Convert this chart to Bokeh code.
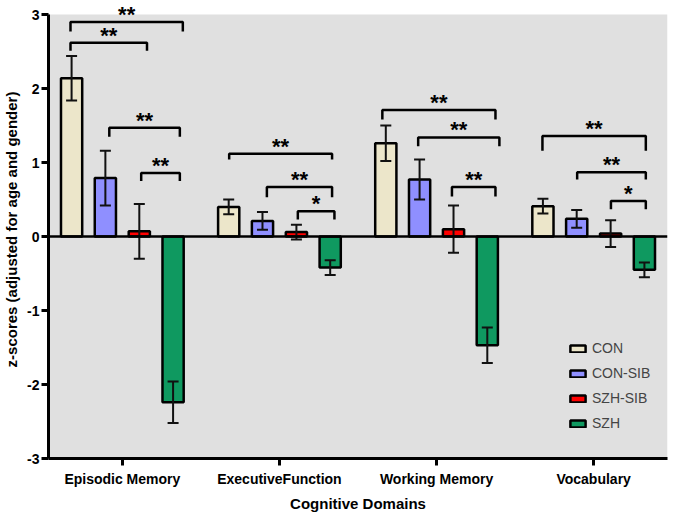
from bokeh.plotting import figure
from bokeh.models import (ColumnDataSource, Whisker, TeeHead, Span, FixedTicker, Range1d,
                          LabelSet, BoxAnnotation)
from bokeh.embed import file_html
from bokeh.resources import INLINE
from bokeh.core.properties import value

# ---------------- data ----------------
domains = ["Episodic Memory", "ExecutiveFunction", "Working Memory", "Vocabulary"]
groups = ["CON", "CON-SIB", "SZH-SIB", "SZH"]
y_ticks = [-3, -2, -1, 0, 1, 2, 3]
y_tick_labels = ["-3", "-2", "-1", "0", "1", "2", "3"]

con = [2.14, 0.40, 1.26, 0.41]
con_err = [0.30, 0.10, 0.24, 0.10]
con_sib = [0.79, 0.21, 0.77, 0.24]
con_sib_err = [0.37, 0.12, 0.27, 0.12]
szh_sib = [0.07, 0.06, 0.10, 0.04]
szh_sib_err = [0.37, 0.10, 0.32, 0.18]
szh = [-2.24, -0.42, -1.47, -0.45]
szh_err = [0.28, 0.10, 0.24, 0.10]

# significance brackets: domain index, bracket height, leg end, start/end offset, label
sig_domain = [0, 0, 0, 0, 1, 1, 1, 2, 2, 2, 3, 3, 3]
sig_y = [2.90, 2.62, 1.47, 0.86, 1.12, 0.67, 0.34, 1.71, 1.34, 0.67, 1.36, 0.87, 0.48]
sig_leg = [2.77, 2.51, 1.35, 0.75, 1.04, 0.53, 0.23, 1.58, 1.22, 0.54, 1.16, 0.77, 0.37]
sig_x0 = [-0.33, -0.33, -0.083, 0.12, -0.32, -0.08, 0.117, -0.345, -0.117, 0.098, -0.326, -0.105, 0.11]
sig_x1 = [0.385, 0.157, 0.366, 0.366, 0.335, 0.335, 0.35, 0.375, 0.40, 0.375, 0.332, 0.332, 0.332]
sig_label = ["**", "**", "**", "**", "**", "**", "*", "**", "**", "**", "**", "**", "*"]

colors = ["#ECE6CA", "#8F8FFF", "#FF0000", "#0F9960"]
offsets = [-0.323, -0.108, 0.108, 0.323]
bar_w = 0.135
FONT = "Liberation Sans"

values = [con, con_sib, szh_sib, szh]
errors = [con_err, con_sib_err, szh_sib_err, szh_err]

p = figure(width=669, height=514, output_backend="svg", toolbar_location=None,
           x_range=Range1d(-0.47, 3.47), y_range=Range1d(-3, 3.19),
           min_border_left=4, min_border_right=2, min_border_top=0, min_border_bottom=10)
p.background_fill_color = "white"
p.border_fill_color = "white"
p.outline_line_color = None
p.grid.visible = False
p.add_layout(BoxAnnotation(bottom=-3, top=3, fill_color="#E0E0E0", fill_alpha=1,
                           line_color=None, level="underlay"))

for k in range(4):
    xs = [i + offsets[k] for i in range(len(domains))]
    src = ColumnDataSource(dict(x=xs, top=values[k],
                                upper=[v + e for v, e in zip(values[k], errors[k])],
                                lower=[v - e for v, e in zip(values[k], errors[k])]))
    p.vbar(x="x", top="top", bottom=0, width=bar_w, source=src,
           fill_color=colors[k], line_color="black", line_width=2.5,
           legend_label=groups[k])
    w = Whisker(base="x", upper="upper", lower="lower", source=src,
                line_width=2, line_color="#111111", level="annotation",
                upper_head=TeeHead(size=11, line_width=2, line_color="#111111"),
                lower_head=TeeHead(size=11, line_width=2, line_color="#111111"))
    p.add_layout(w)

p.add_layout(Span(location=0, dimension="width", line_color="black", line_width=2.5))

# brackets
bx, by, tx, ty = [], [], [], []
for d, y, leg, a, b in zip(sig_domain, sig_y, sig_leg, sig_x0, sig_x1):
    bx.append([d + a, d + a, d + b, d + b])
    by.append([leg, y, y, leg])
    tx.append(d + (a + b) / 2)
    ty.append(y + 0.10)
p.multi_line(bx, by, line_color="black", line_width=2.5)
star_src = ColumnDataSource(dict(x=tx, y=ty, t=sig_label))
p.add_layout(LabelSet(x="x", y="y", text="t", source=star_src,
                      text_font=value(FONT), text_font_style="bold",
                      text_font_size="22px", text_align="center",
                      text_baseline="middle", text_color="black"))

# axes
p.yaxis.ticker = FixedTicker(ticks=y_ticks)
p.yaxis.major_label_overrides = dict(zip(y_ticks, y_tick_labels))
p.yaxis.bounds = (-3, 3)
p.xaxis.ticker = FixedTicker(ticks=[0, 1, 2, 3])
p.xaxis.major_label_overrides = {i: d for i, d in enumerate(domains)}
for ax in (p.xaxis, p.yaxis):
    ax.axis_line_width = 3
    ax.axis_line_color = "black"
    ax.major_tick_line_width = 3
    ax.major_tick_line_color = "black"
    ax.major_tick_out = 7
    ax.major_tick_in = 0
    ax.minor_tick_line_color = None
    ax.major_label_text_font = FONT
    ax.major_label_text_font_style = "bold"
    ax.major_label_text_font_size = "14px"
    ax.major_label_text_color = "black"
    ax.axis_label_text_font = FONT
    ax.axis_label_text_font_style = "bold"
    ax.axis_label_text_font_size = "15px"
    ax.axis_label_text_color = "black"
    ax.major_label_standoff = 2
    ax.axis_label_standoff = 4
p.xaxis.major_label_standoff = 5
p.xaxis.axis_label_standoff = 5
p.xaxis.axis_label = "Cognitive Domains"
p.yaxis.axis_label = "z-scores (adjusted for age and gender)"

lg = p.legend[0]
lg.location = (520, 25)
lg.glyph_width = 19
lg.glyph_height = 9
lg.label_text_font = FONT
lg.label_text_font_size = "14px"
lg.label_height = 20
lg.spacing = 5
lg.padding = 10
lg.margin = 0
lg.background_fill_color = "#E0E0E0"
lg.background_fill_alpha = 1
lg.border_line_color = None

open("out.html", "w").write(file_html(p, INLINE))
